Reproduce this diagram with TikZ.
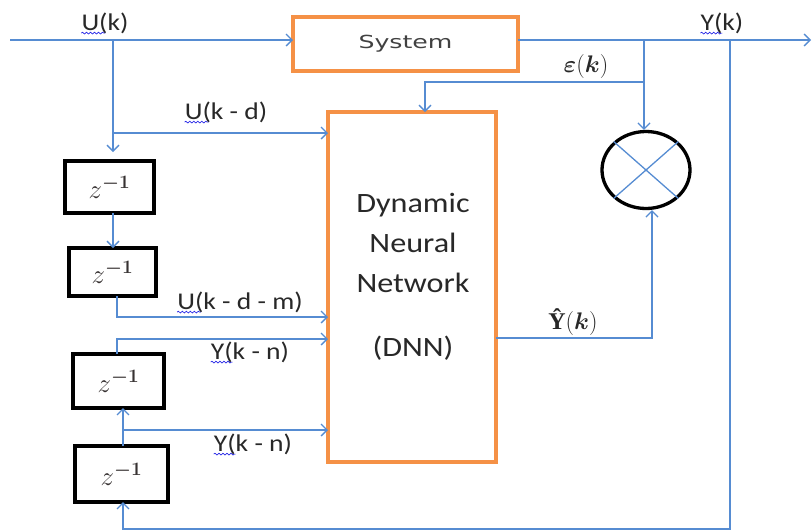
\RequirePackage{fix-cm}
\documentclass[tikz,border=0pt]{standalone}
\usepackage{fontspec}
\setmainfont{Carlito}
\newfontfamily\lblfont[FakeStretch=1.15]{Carlito}
\newfontfamily\sysfont[FakeStretch=1.4]{DejaVu Sans}
\newfontfamily\serifbold{Liberation Serif}
\usepackage{bm}
\usetikzlibrary{arrows.meta,shapes.geometric,decorations.pathmorphing}
\definecolor{lnblue}{RGB}{86,140,210}
\definecolor{boxorange}{RGB}{245,145,70}
\definecolor{txtgray}{RGB}{40,40,40}
\definecolor{sysgray}{RGB}{65,65,65}
\definecolor{zgray}{RGB}{55,50,50}
\definecolor{squigblue}{RGB}{40,40,230}
\newcommand{\zinvtxt}{$z^{\mbox{\fontsize{19}{21}\selectfont$\bm{-1}$}}$}
\begin{document}
\begin{tikzpicture}[x=1pt,y=-1pt,
  conn/.style={draw=lnblue,line width=1.3pt},
  arr/.style={conn,-{Straight Barb[length=6pt,width=12pt]}},
  obox/.style={draw=boxorange,line width=3.3pt,inner sep=0pt,outer sep=0pt},
  kbox/.style={draw=black,line width=3.5pt,inner sep=0pt,outer sep=0pt,text=zgray,
    font=\fontsize{27}{29}\selectfont},
  lbl/.style={inner sep=0pt,text=txtgray,font=\lblfont\fontsize{24}{26}\selectfont},
  mlbl/.style={inner sep=0pt,text=txtgray,font=\fontsize{24}{26}\selectfont},
  squig/.style={draw=squigblue,line width=0.7pt,decorate,
    decoration={snake,amplitude=0.9pt,segment length=4pt}}
  ]
\useasboundingbox (0,0) rectangle (812,531);

% boxes
\node[obox,minimum width=225pt,minimum height=54pt,
  font=\sysfont\fontsize{18}{20}\selectfont,text=sysgray] (sys) at (405.5,44) {System};
\node[obox,minimum width=168pt,minimum height=350pt] (dnn) at (412,287) {};
\node[inner sep=0pt,align=center,text=txtgray,
  font=\lblfont\fontsize{28}{40}\selectfont] (dnntxt) at (413,277)
  {Dynamic\\Neural\\Network\\[24pt](DNN)};
\node[kbox,minimum width=89pt,minimum height=52pt] (z1) at (109.5,187) {\zinvtxt};
\node[kbox,minimum width=87pt,minimum height=48pt] (z2) at (112.5,272) {\zinvtxt};
\node[kbox,minimum width=91pt,minimum height=54pt] (z3) at (118.5,381) {\zinvtxt};
\node[kbox,minimum width=93pt,minimum height=56pt] (z4) at (121.5,474) {\zinvtxt};
\node[draw=black,line width=3.3pt,ellipse,inner sep=0pt,
  minimum width=88pt,minimum height=77pt] (mult) at (646,170) {};
\draw[conn] (mult.north west) -- (mult.south east);
\draw[conn] (mult.north east) -- (mult.south west);

% coordinates
\coordinate (src) at (10,40);
\coordinate (out) at (811,40);
\coordinate (br1) at (113,40);
\coordinate (ud) at (113,133);
\coordinate (c2) at (117,317);
\coordinate (c3) at (117,339);
\coordinate (c4) at (123,430);
\coordinate (fb) at (730,40);
\coordinate (fbb) at (730,529);
\coordinate (br2) at (644,40);
\coordinate (e1) at (644,82);
\coordinate (e2) at (425,82);
\coordinate (yh) at (652,338);

% connectors
\draw[arr] (src) -- (sys.west |- src);
\draw[arr] (sys.east |- src) -- (out);
\draw[arr,shorten >=9pt] (br1) -- (br1 |- z1.north);
\draw[arr] (ud) -- (dnn.west |- ud);
\draw[arr] (z1.south -| br1) -- (z2.north -| br1);
\draw[arr] (z2.south -| c2) -- (c2) -- (dnn.west |- c2);
\draw[arr] (z3.north -| c3) -- (c3) -- (dnn.west |- c3);
\draw[arr] (z4.north -| c4) -- (z3.south -| c4);
\draw[arr] (c4) -- (dnn.west |- c4);
\draw[arr] (fb) -- (fbb) -- (fbb -| c4) -- (z4.south -| c4);
\draw[arr] (br2) -- (br2 |- mult.north);
\draw[arr] (e1) -- (e2) -- (e2 |- dnn.north);
\draw[arr] (dnn.east |- yh) -- (yh) -- (yh |- mult.south);

% labels
\node[lbl] (luk) at (105,23) {U(k)};
\node[lbl] (lukd) at (226,112) {U(k - d)};
\node[lbl] (lukdm) at (240,302) {U(k - d - m)};
\node[lbl] (lykn1) at (250,352) {Y(k - n)};
\node[lbl] (lykn2) at (253,444) {Y(k - n)};
\node[lbl] (lyk) at (722,23) {Y(k)};
\node[mlbl] (leps) at (586,66) {$\bm{\varepsilon}(\bm{k})$};
\node[mlbl] (lyhat) at (573,322) {{\serifbold\bfseries Ŷ}$(\bm{k})$};

% spell-check squiggles
\draw[squig] ([yshift=-3pt]luk.base west) -- ++(24,0);
\draw[squig] ([yshift=-3pt]lukd.base west) -- ++(24,0);
\draw[squig] ([yshift=-3pt]lukdm.base west) -- ++(24,0);
\draw[squig] ([yshift=-3pt]lykn1.base west) -- ++(22,0);
\draw[squig] ([yshift=-3pt]lykn2.base west) -- ++(22,0);
\draw[squig] ([yshift=-3pt]lyk.base west) -- ++(22,0);
\end{tikzpicture}
\end{document}
